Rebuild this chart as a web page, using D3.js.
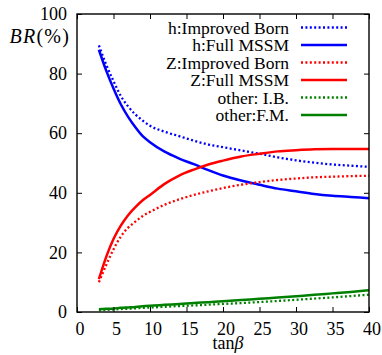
<!DOCTYPE html>
<html>
<head>
<meta charset="utf-8">
<script src="https://cdn.jsdelivr.net/npm/d3@7"></script>
</head>
<body style="margin:0">
<svg id="chart" width="382" height="355"></svg>
<script>
// tan(beta) sample points
const tanb = [3, 4, 5, 6, 7, 8, 9, 10, 12, 14, 16, 18, 20, 22.5, 25, 27.5, 30, 32.5, 35, 37.5, 40];

// branching ratios in %
const hImproved = [89.5, 83, 77.5, 72.5, 69, 66.3, 64.2, 62.5, 60.5, 59, 57.5, 56.2, 55.3, 54.2, 53.1, 51.9, 50.9, 50.1, 49.5, 49.1, 48.7];
const hFull     = [88, 81, 75, 69.7, 65.5, 62, 59, 57, 53.8, 51.5, 49.6, 47.6, 45.8, 44.1, 42.7, 41.4, 40.5, 39.6, 39, 38.6, 38.2];
const zImproved = [10, 15.8, 21, 25.3, 28.3, 30.3, 32.2, 33.6, 36, 37.8, 39.3, 40.5, 41.6, 42.7, 43.6, 44.3, 44.8, 45.2, 45.4, 45.6, 45.7];
const zFull     = [11, 18.5, 24.5, 29, 32.5, 35.2, 37.5, 39.3, 43, 45.8, 47.8, 49.5, 50.8, 52.2, 53.1, 53.9, 54.3, 54.6, 54.7, 54.7, 54.7];
const otherIB   = [0.6, 0.7, 0.85, 1.0, 1.1, 1.25, 1.4, 1.5, 1.75, 2.0, 2.2, 2.45, 2.7, 3.0, 3.35, 3.7, 4.1, 4.5, 4.9, 5.35, 5.8];
const otherFM   = [0.9, 1.05, 1.2, 1.4, 1.55, 1.7, 1.9, 2.1, 2.4, 2.7, 3.0, 3.3, 3.6, 4.0, 4.45, 4.85, 5.3, 5.75, 6.25, 6.75, 7.3];

const xTicks = [0, 5, 10, 15, 20, 25, 30, 35, 40];
const yTicks = [0, 20, 40, 60, 80, 100];

const series = [
  { name: "h:Improved Born", values: hImproved, color: "#0000ff", dotted: true },
  { name: "h:Full MSSM",     values: hFull,     color: "#0000ff", dotted: false },
  { name: "Z:Improved Born", values: zImproved, color: "#ff0000", dotted: true },
  { name: "Z:Full MSSM",     values: zFull,     color: "#ff0000", dotted: false },
  { name: "other: I.B.",     values: otherIB,   color: "#008000", dotted: true },
  { name: "other:F.M.",      values: otherFM,   color: "#008000", dotted: false }
];

const serif = "Liberation Serif";
const svg = d3.select("#chart");
const plot = { left: 77, right: 369, top: 14, bottom: 312 };

const x = d3.scaleLinear().domain([0, 40]).range([plot.left, plot.right]);
const y = d3.scaleLinear().domain([0, 100]).range([plot.bottom, plot.top]);

// curves
const line = d3.line()
  .x((d, i) => x(tanb[i]))
  .y(d => y(d))
  .curve(d3.curveMonotoneX);

series.forEach(s => {
  svg.append("path")
    .datum(s.values)
    .attr("fill", "none")
    .attr("stroke", s.color)
    .attr("stroke-width", s.dotted ? 2.3 : 2.5)
    .attr("stroke-dasharray", s.dotted ? "2,2.4" : null)
    .attr("d", line);
});

// axes, ticks pointing inward
const bottomAxis = svg.append("g")
  .attr("transform", `translate(0,${plot.bottom})`)
  .call(d3.axisBottom(x).tickValues(xTicks).tickSizeInner(-5).tickSizeOuter(0).tickPadding(10));
bottomAxis.selectAll("text").attr("dx", 2.5);

svg.append("g")
  .attr("transform", `translate(${plot.left},0)`)
  .call(d3.axisLeft(y).tickValues(yTicks).tickSizeInner(-5).tickSizeOuter(0).tickPadding(10));

svg.append("g")
  .attr("transform", `translate(0,${plot.top})`)
  .call(d3.axisTop(x).tickValues(xTicks).tickSizeInner(-5).tickSizeOuter(0).tickFormat(""));

svg.append("g")
  .attr("transform", `translate(${plot.right},0)`)
  .call(d3.axisRight(y).tickValues(yTicks).tickSizeInner(-5).tickSizeOuter(0).tickFormat(""));

svg.selectAll("g").attr("font-family", serif).attr("font-size", 18);
svg.selectAll(".domain").remove();
svg.selectAll(".tick line").attr("stroke", "#000").attr("stroke-width", 1);
svg.selectAll(".tick text")
  .attr("fill", "#000")
  .attr("font-family", serif)
  .attr("font-size", 18);

// frame
svg.append("rect")
  .attr("x", plot.left).attr("y", plot.top)
  .attr("width", plot.right - plot.left).attr("height", plot.bottom - plot.top)
  .attr("fill", "none").attr("stroke", "#000").attr("stroke-width", 1.4);

// axis titles
const yTitle = svg.append("text")
  .attr("x", 70).attr("y", 43)
  .attr("text-anchor", "end")
  .attr("font-family", serif)
  .attr("font-size", 20)
  .attr("letter-spacing", 1.2);
yTitle.append("tspan").attr("font-style", "italic").text("BR");
yTitle.append("tspan").text("(%)");

const xTitle = svg.append("text")
  .attr("x", 228).attr("y", 349)
  .attr("text-anchor", "middle")
  .attr("font-family", serif)
  .attr("font-size", 18);
xTitle.append("tspan").text("tan");
xTitle.append("tspan").attr("font-style", "italic").text("β");

// legend
const legend = svg.append("g");
series.forEach((s, i) => {
  const ly = 27.5 + i * 17.5;
  legend.append("text")
    .attr("x", 289).attr("y", ly)
    .attr("dy", "0.35em")
    .attr("text-anchor", "end")
    .attr("font-family", serif)
    .attr("font-size", 17.5)
    .text(s.name);
  legend.append("line")
    .attr("x1", 301).attr("x2", 347)
    .attr("y1", ly).attr("y2", ly)
    .attr("stroke", s.color)
    .attr("stroke-width", s.dotted ? 2.3 : 2.5)
    .attr("stroke-dasharray", s.dotted ? "2,2.4" : null);
});
</script>
</body>
</html>
